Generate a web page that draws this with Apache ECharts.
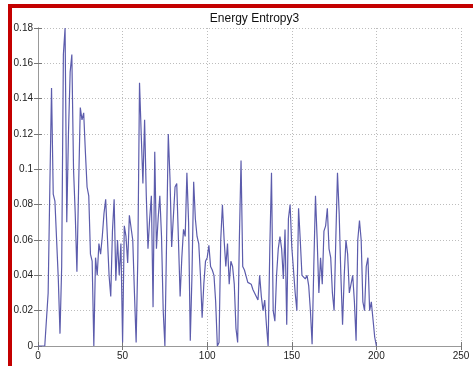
<!DOCTYPE html>
<html>
<head>
<meta charset="utf-8">
<script src="https://cdn.jsdelivr.net/npm/echarts@6/dist/echarts.min.js"></script>
<style>
  html, body { margin: 0; padding: 0; background: #ffffff; }
  #chart { width: 473px; height: 366px; }
</style>
</head>
<body>
<div id="chart"></div>
<script>
// Energy entropy per frame (frame index 0..200)
const frameStart = 0;
const entropy = [
  0, 0, 0, 0, 0, 0.001, 0.03, 0.09, 0.146, 0.086,
  0.082, 0.06, 0.038, 0.007, 0.045, 0.165, 0.18, 0.07, 0.12, 0.155,
  0.165, 0.1, 0.075, 0.042, 0.09, 0.135, 0.128, 0.132, 0.11, 0.09,
  0.085, 0.052, 0.048, 0.0, 0.05, 0.04, 0.058, 0.052, 0.062, 0.075,
  0.083, 0.062, 0.04, 0.028, 0.065, 0.083, 0.037, 0.06, 0.04, 0.058,
  0.002, 0.068, 0.062, 0.047, 0.074, 0.075, 0.06, 0.03, 0.002, 0.05,
  0.149, 0.12, 0.092, 0.128, 0.085, 0.055, 0.072, 0.085, 0.022, 0.11,
  0.055, 0.072, 0.085, 0.062, 0.02, 0.0, 0.06, 0.12, 0.095, 0.056,
  0.055, 0.09, 0.092, 0.06, 0.028, 0.05, 0.066, 0.062, 0.098, 0.07,
  0.003, 0.04, 0.093, 0.072, 0.062, 0.058, 0.04, 0.016, 0.035, 0.048,
  0.05, 0.057, 0.045, 0.043, 0.04, 0.025, 0.0, 0.002, 0.06, 0.08,
  0.06, 0.045, 0.058, 0.035, 0.048, 0.045, 0.035, 0.01, 0.002, 0.06,
  0.105, 0.045, 0.043, 0.042, 0.036, 0.037, 0.035, 0.032, 0.03, 0.03,
  0.026, 0.04, 0.028, 0.02, 0.026, 0.012, 0.0, 0.055, 0.098, 0.02,
  0.014, 0.04, 0.055, 0.062, 0.055, 0.038, 0.066, 0.012, 0.072, 0.08,
  0.056, 0.043, 0.03, 0.02, 0.078, 0.06, 0.04, 0.04, 0.038, 0.04,
  0.034, 0.02, 0.001, 0.045, 0.085, 0.06, 0.03, 0.05, 0.035, 0.065,
  0.068, 0.078, 0.055, 0.05, 0.03, 0.02, 0.06, 0.098, 0.075, 0.04,
  0.012, 0.04, 0.06, 0.052, 0.03, 0.035, 0.04, 0.025, 0.003, 0.06,
  0.071, 0.06, 0.025, 0.02, 0.045, 0.05, 0.02, 0.025, 0.015, 0.005,
  0
];
const xTicks = [0, 50, 100, 150, 200, 250];
const yTicks = [0, 0.02, 0.04, 0.06, 0.08, 0.1, 0.12, 0.14, 0.16, 0.18];

const points = entropy.map((v, i) => [frameStart + i, v]);

const labelFont = { color: '#222', fontSize: 10, fontFamily: 'Liberation Sans, Arial, sans-serif' };
const gridLine = { show: true, lineStyle: { color: '#bdbdbd', type: [1, 2], width: 1 } };
const boxLine = { show: true, lineStyle: { color: '#999', width: 1 } };
const innerTick = { show: true, inside: true, length: 4, lineStyle: { color: '#777' } };

const chart = echarts.init(document.getElementById('chart'), null, { renderer: 'canvas' });
chart.setOption({
  animation: false,
  backgroundColor: '#ffffff',
  title: {
    text: 'Energy Entropy3',
    left: 249.5,
    textAlign: 'center',
    top: 8,
    textStyle: { fontSize: 12, fontWeight: 'normal', color: '#111', fontFamily: 'Liberation Sans, Arial, sans-serif' }
  },
  graphic: [
    { type: 'rect', shape: { x: 8, y: 4, width: 465, height: 4 }, style: { fill: '#c40000' }, silent: true },
    { type: 'rect', shape: { x: 8, y: 4, width: 4, height: 362 }, style: { fill: '#c40000' }, silent: true }
  ],
  grid: { left: 38, top: 28, width: 423, height: 318, show: false },
  xAxis: [
    {
      type: 'value', min: xTicks[0], max: xTicks[xTicks.length - 1], interval: 50,
      axisLine: boxLine, axisTick: innerTick, splitLine: gridLine,
      axisLabel: Object.assign({ margin: 5 }, labelFont)
    },
    {
      type: 'value', position: 'top', min: xTicks[0], max: xTicks[xTicks.length - 1], interval: 50,
      axisLine: boxLine, axisTick: innerTick, splitLine: { show: false }, axisLabel: { show: false }
    }
  ],
  yAxis: [
    {
      type: 'value', min: yTicks[0], max: yTicks[yTicks.length - 1], interval: 0.02,
      axisLine: boxLine, axisTick: innerTick, splitLine: gridLine,
      axisLabel: Object.assign({ margin: 5 }, labelFont)
    },
    {
      type: 'value', position: 'right', min: yTicks[0], max: yTicks[yTicks.length - 1], interval: 0.02,
      axisLine: boxLine, axisTick: innerTick, splitLine: { show: false }, axisLabel: { show: false }
    }
  ],
  series: [{
    type: 'line',
    data: points,
    showSymbol: false,
    smooth: false,
    lineStyle: { color: '#5c5cac', width: 1.2 },
    clip: true
  }]
});
</script>
</body>
</html>
